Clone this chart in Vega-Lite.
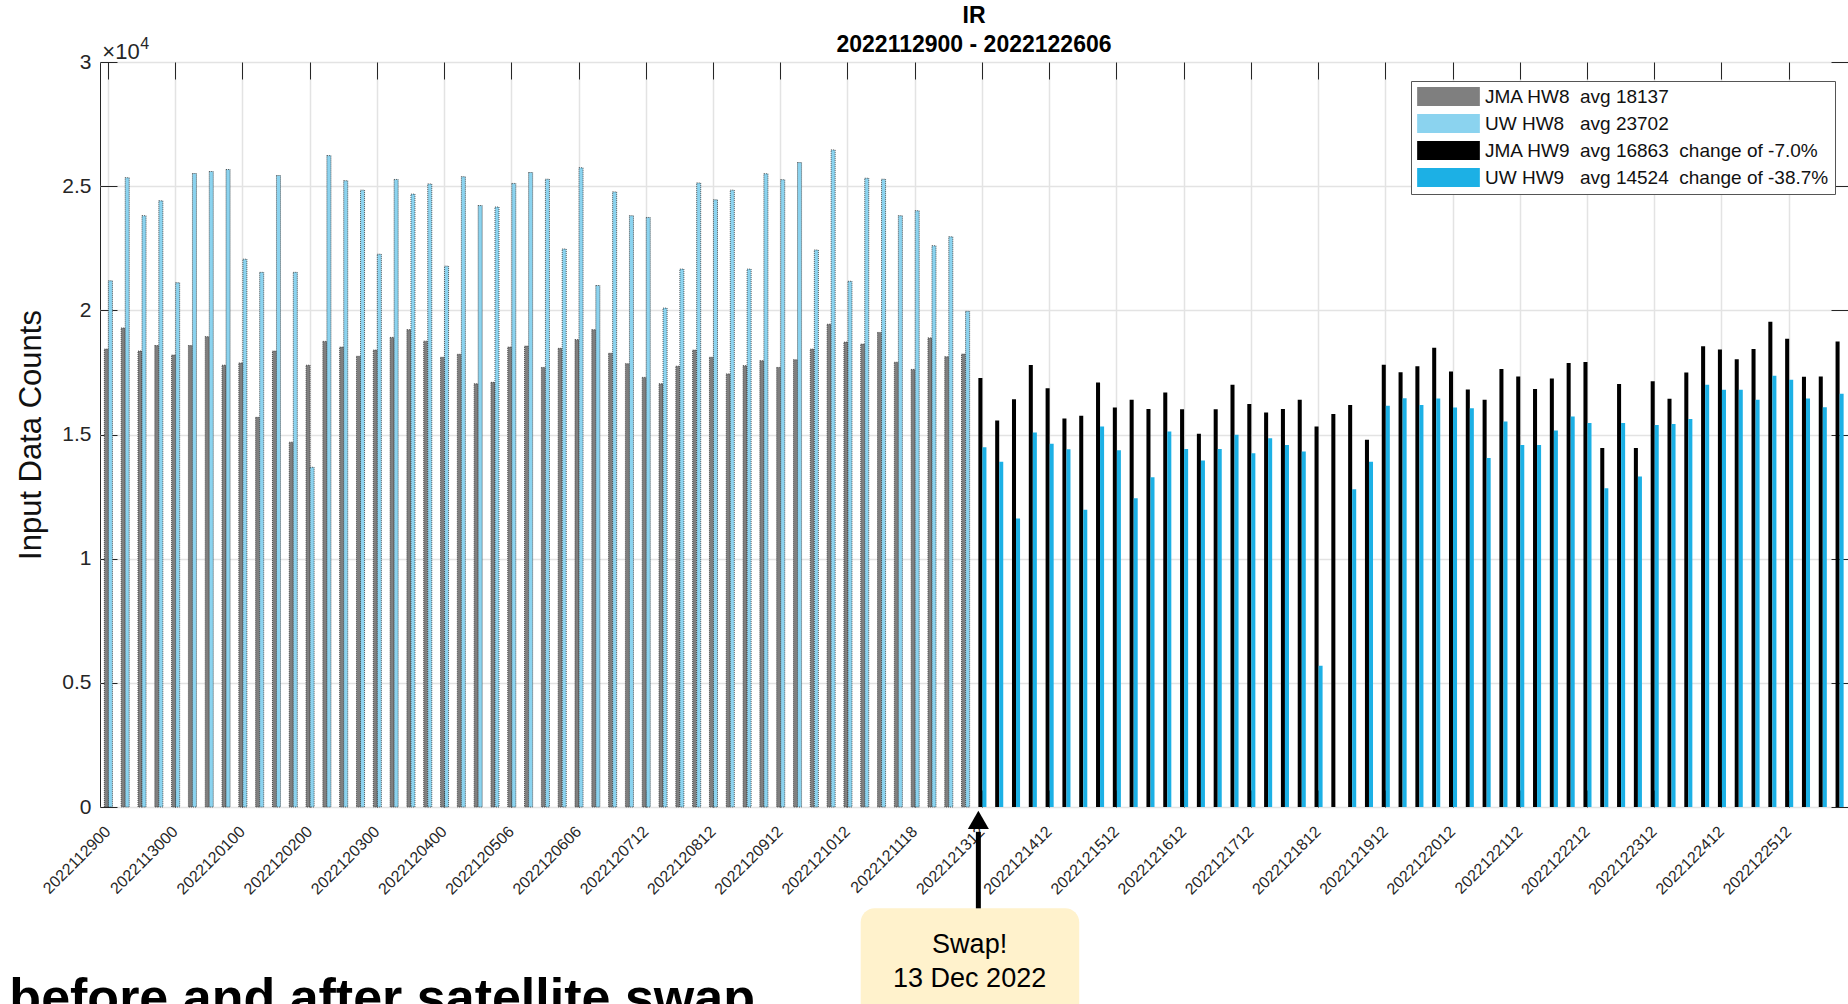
{
"$schema": "https://vega.github.io/schema/vega-lite/v6.json",
"width": 1748, "height": 745,
"autosize": {"type": "none"},
"padding": {"left": 100, "top": 62, "right": 0, "bottom": 197},
"background": "white",
"title": {"text": ["IR", "2022112900 - 2022122606"], "fontSize": 23, "fontWeight": "bold", "lineHeight": 29, "color": "#000000", "anchor": "middle", "offset": -21, "font": "Liberation Sans"},
"datasets": {
"hw8": [
{"t":"2022112900","s":"JMA HW8","m":"JMA","v":18440},{"t":"2022112900","s":"UW HW8","m":"UW","v":21190},
{"t":"2022112906","s":"JMA HW8","m":"JMA","v":19290},{"t":"2022112906","s":"UW HW8","m":"UW","v":25340},
{"t":"2022112912","s":"JMA HW8","m":"JMA","v":18360},{"t":"2022112912","s":"UW HW8","m":"UW","v":23810},
{"t":"2022112918","s":"JMA HW8","m":"JMA","v":18580},{"t":"2022112918","s":"UW HW8","m":"UW","v":24410},
{"t":"2022113000","s":"JMA HW8","m":"JMA","v":18200},{"t":"2022113000","s":"UW HW8","m":"UW","v":21110},
{"t":"2022113006","s":"JMA HW8","m":"JMA","v":18580},{"t":"2022113006","s":"UW HW8","m":"UW","v":25510},
{"t":"2022113012","s":"JMA HW8","m":"JMA","v":18940},{"t":"2022113012","s":"UW HW8","m":"UW","v":25590},
{"t":"2022113018","s":"JMA HW8","m":"JMA","v":17790},{"t":"2022113018","s":"UW HW8","m":"UW","v":25670},
{"t":"2022120100","s":"JMA HW8","m":"JMA","v":17880},{"t":"2022120100","s":"UW HW8","m":"UW","v":22060},
{"t":"2022120106","s":"JMA HW8","m":"JMA","v":15690},{"t":"2022120106","s":"UW HW8","m":"UW","v":21530},
{"t":"2022120112","s":"JMA HW8","m":"JMA","v":18360},{"t":"2022120112","s":"UW HW8","m":"UW","v":25430},
{"t":"2022120118","s":"JMA HW8","m":"JMA","v":14690},{"t":"2022120118","s":"UW HW8","m":"UW","v":21530},
{"t":"2022120200","s":"JMA HW8","m":"JMA","v":17790},{"t":"2022120200","s":"UW HW8","m":"UW","v":13680},
{"t":"2022120206","s":"JMA HW8","m":"JMA","v":18750},{"t":"2022120206","s":"UW HW8","m":"UW","v":26230},
{"t":"2022120212","s":"JMA HW8","m":"JMA","v":18520},{"t":"2022120212","s":"UW HW8","m":"UW","v":25220},
{"t":"2022120218","s":"JMA HW8","m":"JMA","v":18150},{"t":"2022120218","s":"UW HW8","m":"UW","v":24840},
{"t":"2022120300","s":"JMA HW8","m":"JMA","v":18400},{"t":"2022120300","s":"UW HW8","m":"UW","v":22260},
{"t":"2022120306","s":"JMA HW8","m":"JMA","v":18910},{"t":"2022120306","s":"UW HW8","m":"UW","v":25270},
{"t":"2022120312","s":"JMA HW8","m":"JMA","v":19220},{"t":"2022120312","s":"UW HW8","m":"UW","v":24680},
{"t":"2022120318","s":"JMA HW8","m":"JMA","v":18760},{"t":"2022120318","s":"UW HW8","m":"UW","v":25090},
{"t":"2022120400","s":"JMA HW8","m":"JMA","v":18110},{"t":"2022120400","s":"UW HW8","m":"UW","v":21780},
{"t":"2022120406","s":"JMA HW8","m":"JMA","v":18230},{"t":"2022120406","s":"UW HW8","m":"UW","v":25380},
{"t":"2022120412","s":"JMA HW8","m":"JMA","v":17040},{"t":"2022120412","s":"UW HW8","m":"UW","v":24220},
{"t":"2022120418","s":"JMA HW8","m":"JMA","v":17100},{"t":"2022120418","s":"UW HW8","m":"UW","v":24160},
{"t":"2022120506","s":"JMA HW8","m":"JMA","v":18520},{"t":"2022120506","s":"UW HW8","m":"UW","v":25110},
{"t":"2022120512","s":"JMA HW8","m":"JMA","v":18560},{"t":"2022120512","s":"UW HW8","m":"UW","v":25550},
{"t":"2022120518","s":"JMA HW8","m":"JMA","v":17700},{"t":"2022120518","s":"UW HW8","m":"UW","v":25280},
{"t":"2022120600","s":"JMA HW8","m":"JMA","v":18470},{"t":"2022120600","s":"UW HW8","m":"UW","v":22470},
{"t":"2022120606","s":"JMA HW8","m":"JMA","v":18820},{"t":"2022120606","s":"UW HW8","m":"UW","v":25740},
{"t":"2022120612","s":"JMA HW8","m":"JMA","v":19220},{"t":"2022120612","s":"UW HW8","m":"UW","v":21000},
{"t":"2022120618","s":"JMA HW8","m":"JMA","v":18270},{"t":"2022120618","s":"UW HW8","m":"UW","v":24770},
{"t":"2022120700","s":"JMA HW8","m":"JMA","v":17850},{"t":"2022120700","s":"UW HW8","m":"UW","v":23810},
{"t":"2022120712","s":"JMA HW8","m":"JMA","v":17300},{"t":"2022120712","s":"UW HW8","m":"UW","v":23740},
{"t":"2022120718","s":"JMA HW8","m":"JMA","v":17040},{"t":"2022120718","s":"UW HW8","m":"UW","v":20090},
{"t":"2022120800","s":"JMA HW8","m":"JMA","v":17750},{"t":"2022120800","s":"UW HW8","m":"UW","v":21660},
{"t":"2022120806","s":"JMA HW8","m":"JMA","v":18400},{"t":"2022120806","s":"UW HW8","m":"UW","v":25130},
{"t":"2022120812","s":"JMA HW8","m":"JMA","v":18110},{"t":"2022120812","s":"UW HW8","m":"UW","v":24450},
{"t":"2022120818","s":"JMA HW8","m":"JMA","v":17440},{"t":"2022120818","s":"UW HW8","m":"UW","v":24840},
{"t":"2022120900","s":"JMA HW8","m":"JMA","v":17770},{"t":"2022120900","s":"UW HW8","m":"UW","v":21660},
{"t":"2022120906","s":"JMA HW8","m":"JMA","v":17970},{"t":"2022120906","s":"UW HW8","m":"UW","v":25500},
{"t":"2022120912","s":"JMA HW8","m":"JMA","v":17700},{"t":"2022120912","s":"UW HW8","m":"UW","v":25260},
{"t":"2022120918","s":"JMA HW8","m":"JMA","v":18010},{"t":"2022120918","s":"UW HW8","m":"UW","v":25950},
{"t":"2022121000","s":"JMA HW8","m":"JMA","v":18440},{"t":"2022121000","s":"UW HW8","m":"UW","v":22430},
{"t":"2022121006","s":"JMA HW8","m":"JMA","v":19440},{"t":"2022121006","s":"UW HW8","m":"UW","v":26460},
{"t":"2022121012","s":"JMA HW8","m":"JMA","v":18720},{"t":"2022121012","s":"UW HW8","m":"UW","v":21170},
{"t":"2022121018","s":"JMA HW8","m":"JMA","v":18640},{"t":"2022121018","s":"UW HW8","m":"UW","v":25320},
{"t":"2022121100","s":"JMA HW8","m":"JMA","v":19110},{"t":"2022121100","s":"UW HW8","m":"UW","v":25280},
{"t":"2022121106","s":"JMA HW8","m":"JMA","v":17910},{"t":"2022121106","s":"UW HW8","m":"UW","v":23810},
{"t":"2022121118","s":"JMA HW8","m":"JMA","v":17620},{"t":"2022121118","s":"UW HW8","m":"UW","v":24010},
{"t":"2022121200","s":"JMA HW8","m":"JMA","v":18890},{"t":"2022121200","s":"UW HW8","m":"UW","v":22600},
{"t":"2022121206","s":"JMA HW8","m":"JMA","v":18130},{"t":"2022121206","s":"UW HW8","m":"UW","v":22960},
{"t":"2022121212","s":"JMA HW8","m":"JMA","v":18240},{"t":"2022121212","s":"UW HW8","m":"UW","v":19960}
],
"hw9": [
{"t":"2022121312","s":"JMA HW9","m":"JMA","v":17280},{"t":"2022121312","s":"UW HW9","m":"UW","v":14490},
{"t":"2022121318","s":"JMA HW9","m":"JMA","v":15560},{"t":"2022121318","s":"UW HW9","m":"UW","v":13900},
{"t":"2022121400","s":"JMA HW9","m":"JMA","v":16420},{"t":"2022121400","s":"UW HW9","m":"UW","v":11620},
{"t":"2022121406","s":"JMA HW9","m":"JMA","v":17800},{"t":"2022121406","s":"UW HW9","m":"UW","v":15080},
{"t":"2022121412","s":"JMA HW9","m":"JMA","v":16860},{"t":"2022121412","s":"UW HW9","m":"UW","v":14630},
{"t":"2022121418","s":"JMA HW9","m":"JMA","v":15640},{"t":"2022121418","s":"UW HW9","m":"UW","v":14410},
{"t":"2022121500","s":"JMA HW9","m":"JMA","v":15760},{"t":"2022121500","s":"UW HW9","m":"UW","v":11970},
{"t":"2022121506","s":"JMA HW9","m":"JMA","v":17090},{"t":"2022121506","s":"UW HW9","m":"UW","v":15320},
{"t":"2022121512","s":"JMA HW9","m":"JMA","v":16090},{"t":"2022121512","s":"UW HW9","m":"UW","v":14370},
{"t":"2022121518","s":"JMA HW9","m":"JMA","v":16400},{"t":"2022121518","s":"UW HW9","m":"UW","v":12430},
{"t":"2022121600","s":"JMA HW9","m":"JMA","v":16030},{"t":"2022121600","s":"UW HW9","m":"UW","v":13280},
{"t":"2022121606","s":"JMA HW9","m":"JMA","v":16690},{"t":"2022121606","s":"UW HW9","m":"UW","v":15120},
{"t":"2022121612","s":"JMA HW9","m":"JMA","v":16020},{"t":"2022121612","s":"UW HW9","m":"UW","v":14420},
{"t":"2022121618","s":"JMA HW9","m":"JMA","v":15030},{"t":"2022121618","s":"UW HW9","m":"UW","v":13950},
{"t":"2022121700","s":"JMA HW9","m":"JMA","v":16020},{"t":"2022121700","s":"UW HW9","m":"UW","v":14420},
{"t":"2022121706","s":"JMA HW9","m":"JMA","v":17000},{"t":"2022121706","s":"UW HW9","m":"UW","v":14990},
{"t":"2022121712","s":"JMA HW9","m":"JMA","v":16230},{"t":"2022121712","s":"UW HW9","m":"UW","v":14250},
{"t":"2022121718","s":"JMA HW9","m":"JMA","v":15890},{"t":"2022121718","s":"UW HW9","m":"UW","v":14850},
{"t":"2022121800","s":"JMA HW9","m":"JMA","v":16030},{"t":"2022121800","s":"UW HW9","m":"UW","v":14580},
{"t":"2022121806","s":"JMA HW9","m":"JMA","v":16400},{"t":"2022121806","s":"UW HW9","m":"UW","v":14320},
{"t":"2022121812","s":"JMA HW9","m":"JMA","v":15320},{"t":"2022121812","s":"UW HW9","m":"UW","v":5690},
{"t":"2022121818","s":"JMA HW9","m":"JMA","v":15830},{"t":"2022121818","s":"UW HW9","m":"UW","v":0},
{"t":"2022121900","s":"JMA HW9","m":"JMA","v":16190},{"t":"2022121900","s":"UW HW9","m":"UW","v":12800},
{"t":"2022121906","s":"JMA HW9","m":"JMA","v":14790},{"t":"2022121906","s":"UW HW9","m":"UW","v":13900},
{"t":"2022121912","s":"JMA HW9","m":"JMA","v":17810},{"t":"2022121912","s":"UW HW9","m":"UW","v":16160},
{"t":"2022121918","s":"JMA HW9","m":"JMA","v":17510},{"t":"2022121918","s":"UW HW9","m":"UW","v":16460},
{"t":"2022122000","s":"JMA HW9","m":"JMA","v":17750},{"t":"2022122000","s":"UW HW9","m":"UW","v":16190},
{"t":"2022122006","s":"JMA HW9","m":"JMA","v":18490},{"t":"2022122006","s":"UW HW9","m":"UW","v":16450},
{"t":"2022122012","s":"JMA HW9","m":"JMA","v":17540},{"t":"2022122012","s":"UW HW9","m":"UW","v":16090},
{"t":"2022122018","s":"JMA HW9","m":"JMA","v":16810},{"t":"2022122018","s":"UW HW9","m":"UW","v":16060},
{"t":"2022122100","s":"JMA HW9","m":"JMA","v":16400},{"t":"2022122100","s":"UW HW9","m":"UW","v":14050},
{"t":"2022122106","s":"JMA HW9","m":"JMA","v":17640},{"t":"2022122106","s":"UW HW9","m":"UW","v":15520},
{"t":"2022122112","s":"JMA HW9","m":"JMA","v":17340},{"t":"2022122112","s":"UW HW9","m":"UW","v":14580},
{"t":"2022122118","s":"JMA HW9","m":"JMA","v":16830},{"t":"2022122118","s":"UW HW9","m":"UW","v":14580},
{"t":"2022122200","s":"JMA HW9","m":"JMA","v":17260},{"t":"2022122200","s":"UW HW9","m":"UW","v":15160},
{"t":"2022122206","s":"JMA HW9","m":"JMA","v":17880},{"t":"2022122206","s":"UW HW9","m":"UW","v":15720},
{"t":"2022122212","s":"JMA HW9","m":"JMA","v":17920},{"t":"2022122212","s":"UW HW9","m":"UW","v":15460},
{"t":"2022122218","s":"JMA HW9","m":"JMA","v":14460},{"t":"2022122218","s":"UW HW9","m":"UW","v":12840},
{"t":"2022122300","s":"JMA HW9","m":"JMA","v":17030},{"t":"2022122300","s":"UW HW9","m":"UW","v":15460},
{"t":"2022122306","s":"JMA HW9","m":"JMA","v":14460},{"t":"2022122306","s":"UW HW9","m":"UW","v":13310},
{"t":"2022122312","s":"JMA HW9","m":"JMA","v":17140},{"t":"2022122312","s":"UW HW9","m":"UW","v":15380},
{"t":"2022122318","s":"JMA HW9","m":"JMA","v":16440},{"t":"2022122318","s":"UW HW9","m":"UW","v":15420},
{"t":"2022122400","s":"JMA HW9","m":"JMA","v":17500},{"t":"2022122400","s":"UW HW9","m":"UW","v":15620},
{"t":"2022122406","s":"JMA HW9","m":"JMA","v":18550},{"t":"2022122406","s":"UW HW9","m":"UW","v":17000},
{"t":"2022122412","s":"JMA HW9","m":"JMA","v":18420},{"t":"2022122412","s":"UW HW9","m":"UW","v":16800},
{"t":"2022122418","s":"JMA HW9","m":"JMA","v":18030},{"t":"2022122418","s":"UW HW9","m":"UW","v":16800},
{"t":"2022122500","s":"JMA HW9","m":"JMA","v":18440},{"t":"2022122500","s":"UW HW9","m":"UW","v":16400},
{"t":"2022122506","s":"JMA HW9","m":"JMA","v":19540},{"t":"2022122506","s":"UW HW9","m":"UW","v":17370},
{"t":"2022122512","s":"JMA HW9","m":"JMA","v":18860},{"t":"2022122512","s":"UW HW9","m":"UW","v":17200},
{"t":"2022122518","s":"JMA HW9","m":"JMA","v":17330},{"t":"2022122518","s":"UW HW9","m":"UW","v":16450},
{"t":"2022122600","s":"JMA HW9","m":"JMA","v":17340},{"t":"2022122600","s":"UW HW9","m":"UW","v":16100},
{"t":"2022122606","s":"JMA HW9","m":"JMA","v":18740},{"t":"2022122606","s":"UW HW9","m":"UW","v":16640}
],
"one": [{"k": 1}]
},
"layer": [
{
"data": {"name": "hw8"},
"mark": {"type": "bar", "stroke": "#2e2e2e", "strokeWidth": 0.8, "strokeDash": [1, 1]},
"encoding": {
"x": {"field": "t", "type": "ordinal",
"scale": {"paddingInner": 0.52, "paddingOuter": 0.26, "domain": ["2022112900","2022112906","2022112912","2022112918","2022113000","2022113006","2022113012","2022113018","2022120100","2022120106","2022120112","2022120118","2022120200","2022120206","2022120212","2022120218","2022120300","2022120306","2022120312","2022120318","2022120400","2022120406","2022120412","2022120418","2022120506","2022120512","2022120518","2022120600","2022120606","2022120612","2022120618","2022120700","2022120712","2022120718","2022120800","2022120806","2022120812","2022120818","2022120900","2022120906","2022120912","2022120918","2022121000","2022121006","2022121012","2022121018","2022121100","2022121106","2022121118","2022121200","2022121206","2022121212","2022121312","2022121318","2022121400","2022121406","2022121412","2022121418","2022121500","2022121506","2022121512","2022121518","2022121600","2022121606","2022121612","2022121618","2022121700","2022121706","2022121712","2022121718","2022121800","2022121806","2022121812","2022121818","2022121900","2022121906","2022121912","2022121918","2022122000","2022122006","2022122012","2022122018","2022122100","2022122106","2022122112","2022122118","2022122200","2022122206","2022122212","2022122218","2022122300","2022122306","2022122312","2022122318","2022122400","2022122406","2022122412","2022122418","2022122500","2022122506","2022122512","2022122518","2022122600","2022122606"]},
"axis": {"orient": "bottom", "values": ["2022112900","2022113000","2022120100","2022120200","2022120300","2022120400","2022120506","2022120606","2022120712","2022120812","2022120912","2022121012","2022121118","2022121312","2022121412","2022121512","2022121612","2022121712","2022121812","2022121912","2022122012","2022122112","2022122212","2022122312","2022122412","2022122512"],
"bandPosition": 0.5, "labelAngle": -45, "labelAlign": "right", "labelBaseline": "top", "labelFontSize": 16, "labelColor": "#262626", "labelPadding": 33, "labelOffset": -6, "labelOverlap": false, "labelBound": false, "labelFlush": false,
"ticks": true, "tickSize": -17, "tickColor": "#262626", "tickWidth": 1, "grid": true, "gridColor": "#E3E3E3", "gridWidth": 1.5, "domain": false, "title": null}},
"xOffset": {"field": "m", "type": "nominal"},
"y": {"field": "v", "type": "quantitative", "scale": {"domain": [0, 30000], "nice": false, "zero": true},
"axis": {"orient": "left", "values": [0, 5000, 10000, 15000, 20000, 25000, 30000], "labelExpr": "datum.value / 10000", "labelFontSize": 21, "labelColor": "#262626", "labelPadding": 26,
"ticks": true, "tickSize": -17, "tickColor": "#262626", "tickWidth": 1, "grid": true, "gridColor": "#E3E3E3", "gridWidth": 1.5, "domain": false,
"title": "Input Data Counts", "titleFontSize": 31, "titleFontWeight": "normal", "titleColor": "#111111", "titlePadding": 14}},
"color": {"field": "s", "type": "nominal",
"scale": {"domain": ["JMA HW8", "UW HW8", "JMA HW9", "UW HW9"], "range": ["#7f7f7f", "#8bd3ef", "#000000", "#1cb0e5"]},
"legend": {"orient": "none", "legendX": 1311, "legendY": 19, "direction": "vertical", "title": null,
"labelExpr": "datum.label == 'JMA HW8' ? 'JMA HW8\u00a0\u00a0avg 18137' : datum.label == 'UW HW8' ? 'UW HW8\u00a0\u00a0\u00a0avg 23702' : datum.label == 'JMA HW9' ? 'JMA HW9\u00a0\u00a0avg 16863\u00a0\u00a0change of -7.0%' : 'UW HW9\u00a0\u00a0\u00a0avg 14524\u00a0\u00a0change of -38.7%'",
"labelFontSize": 19, "labelColor": "#111111", "labelLimit": 600, "labelOffset": 27,
"symbolType": "M-3.3,-1L3.3,-1L3.3,1L-3.3,1Z", "symbolSize": 361, "symbolOffset": 22, "symbolStrokeWidth": 0, "symbolOpacity": 1,
"rowPadding": 7, "padding": 6, "strokeColor": "#555555", "fillColor": "#ffffff", "cornerRadius": 0}}
}
},
{
"data": {"name": "hw9"},
"mark": {"type": "bar"},
"encoding": {
"x": {"field": "t", "type": "ordinal",
"axis": {"orient": "top", "values": ["2022112900","2022113000","2022120100","2022120200","2022120300","2022120400","2022120506","2022120606","2022120712","2022120812","2022120912","2022121012","2022121118","2022121312","2022121412","2022121512","2022121612","2022121712","2022121812","2022121912","2022122012","2022122112","2022122212","2022122312","2022122412","2022122512"],
"bandPosition": 0.5, "labels": false, "ticks": true, "tickSize": -17, "tickColor": "#262626", "tickWidth": 1, "grid": false, "domain": false, "title": null}},
"xOffset": {"field": "m", "type": "nominal"},
"y": {"field": "v", "type": "quantitative",
"axis": {"orient": "right", "values": [0, 5000, 10000, 15000, 20000, 25000, 30000], "labels": false, "ticks": true, "tickSize": -17, "tickColor": "#262626", "tickWidth": 1, "grid": false, "domain": false, "title": null}},
"color": {"field": "s", "type": "nominal",
"legend": {"orient": "none", "legendX": 1311, "legendY": 19, "direction": "vertical", "title": null,
"labelExpr": "datum.label == 'JMA HW8' ? 'JMA HW8\u00a0\u00a0avg 18137' : datum.label == 'UW HW8' ? 'UW HW8\u00a0\u00a0\u00a0avg 23702' : datum.label == 'JMA HW9' ? 'JMA HW9\u00a0\u00a0avg 16863\u00a0\u00a0change of -7.0%' : 'UW HW9\u00a0\u00a0\u00a0avg 14524\u00a0\u00a0change of -38.7%'",
"labelFontSize": 19, "labelColor": "#111111", "labelLimit": 600, "labelOffset": 27,
"symbolType": "M-3.3,-1L3.3,-1L3.3,1L-3.3,1Z", "symbolSize": 361, "symbolOffset": 22, "symbolStrokeWidth": 0, "symbolOpacity": 1,
"rowPadding": 7, "padding": 6, "strokeColor": "#555555", "fillColor": "#ffffff", "cornerRadius": 0}}
}
},
{
"data": {"name": "one"},
"mark": {"type": "text", "text": "×10", "fontSize": 22, "align": "left", "baseline": "alphabetic", "dx": -2, "dy": -3, "color": "#262626"},
"encoding": {
"x": {"datum": "2022112900", "type": "ordinal", "bandPosition": 0, "axis": null},
"y": {"datum": 30000, "type": "quantitative", "axis": null}
}
},
{
"data": {"name": "one"},
"mark": {"type": "text", "text": "4", "fontSize": 16, "align": "left", "baseline": "alphabetic", "dx": 36, "dy": -13, "color": "#262626"},
"encoding": {
"x": {"datum": "2022112900", "type": "ordinal", "bandPosition": 0, "axis": null},
"y": {"datum": 30000, "type": "quantitative", "axis": null}
}
},
{
"data": {"name": "one"},
"mark": {"type": "rect", "fill": "#fff2cc", "cornerRadius": 14},
"encoding": {
"x": {"datum": "2022121018", "type": "ordinal", "bandPosition": 0, "axis": null},
"x2": {"datum": "2022121500", "bandPosition": 0},
"y": {"datum": -4080, "type": "quantitative", "axis": null},
"y2": {"datum": -9500}
}
},
{
"data": {"name": "one"},
"mark": {"type": "rule", "color": "#000000", "strokeWidth": 5},
"encoding": {
"x": {"datum": "2022121312", "type": "ordinal", "bandPosition": 0, "axis": null},
"y": {"datum": -1000, "type": "quantitative", "axis": null},
"y2": {"datum": -4080}
}
},
{
"data": {"name": "one"},
"mark": {"type": "point", "shape": "triangle-up", "filled": true, "size": 441, "color": "#000000", "opacity": 1},
"encoding": {
"x": {"datum": "2022121312", "type": "ordinal", "bandPosition": 0, "axis": null},
"y": {"datum": -515, "type": "quantitative", "axis": null}
}
},
{
"data": {"name": "one"},
"mark": {"type": "text", "text": "Swap!", "fontSize": 27, "align": "center", "baseline": "middle", "color": "#000000"},
"encoding": {
"x": {"datum": "2022121212", "type": "ordinal", "bandPosition": 1, "axis": null},
"y": {"datum": -5549, "type": "quantitative", "axis": null}
}
},
{
"data": {"name": "one"},
"mark": {"type": "text", "text": "13 Dec 2022", "fontSize": 27, "align": "center", "baseline": "middle", "color": "#000000"},
"encoding": {
"x": {"datum": "2022121212", "type": "ordinal", "bandPosition": 1, "axis": null},
"y": {"datum": -6918, "type": "quantitative", "axis": null}
}
},
{
"data": {"name": "one"},
"mark": {"type": "text", "text": "before and after satellite swap", "fontSize": 52, "fontWeight": "bold", "align": "left", "baseline": "alphabetic", "dx": -95, "color": "#000000"},
"encoding": {
"x": {"datum": "2022112900", "type": "ordinal", "bandPosition": 0, "axis": null},
"y": {"datum": -8368, "type": "quantitative", "axis": null}
}
}
],
"resolve": {"axis": {"x": "independent", "y": "independent"}},
"config": {
"font": "Liberation Sans",
"view": {"stroke": "#262626", "strokeWidth": 1},
"axis": {"labelFont": "Liberation Sans", "titleFont": "Liberation Sans"},
"legend": {"labelFont": "Liberation Sans"},
"text": {"font": "Liberation Sans"}
}
}
